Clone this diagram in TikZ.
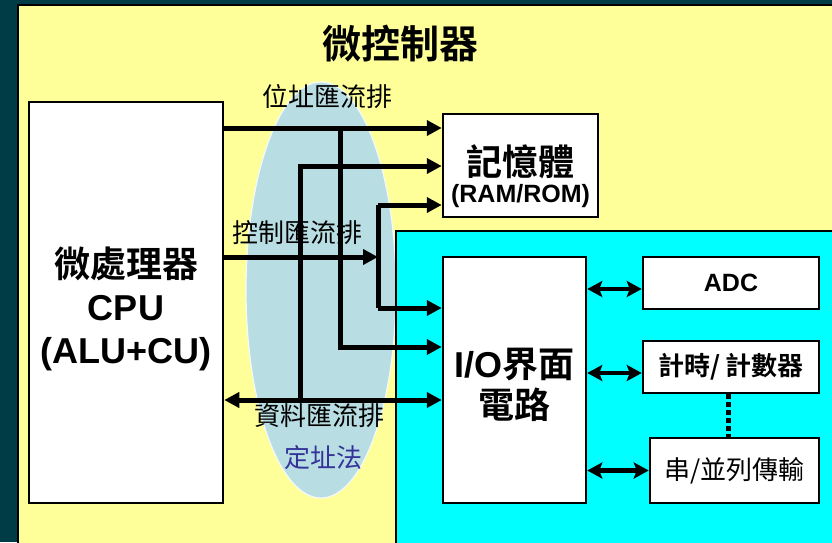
\documentclass[tikz,border=0pt]{standalone}
\usepackage{fontspec}
\setmainfont{Liberation Sans}
\newfontfamily\cjk{Noto Sans CJK TC}[BoldFont={Noto Sans CJK TC Bold}]
\usetikzlibrary{arrows.meta}

\definecolor{outerbg}{RGB}{0,60,70}
\definecolor{mcuyellow}{RGB}{255,255,153}
\definecolor{iocyan}{RGB}{0,255,255}
\definecolor{busoval}{RGB}{184,221,226}
\definecolor{addrblue}{RGB}{51,51,153}

\tikzset{
  blk/.style={draw=black, line width=2.5pt, fill=white, inner sep=0pt},
  bus/.style={line width=5pt},
  busarrow/.style={bus, -{Triangle[length=15pt,width=15pt]}},
  busboth/.style={bus, {Triangle[length=15pt,width=15pt]}-{Triangle[length=15pt,width=15pt]}},
  iolink/.style={line width=4.5pt, {Stealth[length=15pt,width=16pt,inset=3pt]}-{Stealth[length=15pt,width=16pt,inset=3pt]}},
  linkdots/.style={line width=5pt, dash pattern=on 5pt off 3pt},
  buslabel/.style={font=\cjk\fontsize{26}{26}\selectfont, inner sep=0pt}
}

\begin{document}
\begin{tikzpicture}[x=1pt,y=-1pt]
\useasboundingbox (0,0) rectangle (832,542);
\clip (0,0) rectangle (832,542);

% fonds
\fill[outerbg] (0,0) rectangle (832,542);
\filldraw[fill=mcuyellow, draw=black, line width=2pt] (18,5) rectangle (850,560);
\filldraw[fill=busoval, draw=white!85!busoval, line width=1.2pt] (321,290) ellipse [x radius=75pt, y radius=208pt];
\filldraw[fill=iocyan, draw=black, line width=2pt] (396,231) rectangle (850,560);

\node[font=\cjk\bfseries\fontsize{39}{39}\selectfont] (title) at (400,44) {微控制器};

% blocs
\node[blk, minimum width=194pt, minimum height=401pt] (cpu) at (126,302.5) {};
\node[align=center, font=\bfseries\fontsize{36}{43}\selectfont] (cputxt) at (126,309)
  {{\cjk 微處理器}\\CPU\\(ALU+CU)};
\node[blk, minimum width=155pt, minimum height=103pt] (mem) at (520.5,165.5) {};
\node[align=center, font=\bfseries] (memtxt) at (520.5,176)
  {{\cjk\fontsize{36}{36}\selectfont 記憶體}\\[4pt]{\fontsize{25}{26}\selectfont (RAM/ROM)}};
\node[blk, minimum width=143pt, minimum height=246pt] (io) at (514.5,380) {};
\node[align=center, font=\bfseries\fontsize{36}{41}\selectfont] (iotxt) at (514.5,385)
  {I/O{\cjk 界面}\\{\cjk 電路}};
\node[blk, minimum width=176pt, minimum height=52pt, font=\bfseries\fontsize{25}{25}\selectfont] (adc) at (731,283) {ADC};
\node[blk, minimum width=176pt, minimum height=52pt, font=\cjk\bfseries\fontsize{26}{26}\selectfont] (timer) at (731,367) {計時/ 計數器};
\node[blk, minimum width=169pt, minimum height=65pt, font=\cjk\fontsize{26}{26}\selectfont] (serial) at (734.5,470.5) {串/並列傳輸};

%匯流排
\coordinate (addrsplit) at (340,128);
\coordinate (addrio) at (340,347);
\coordinate (datasplit) at (300,400);
\coordinate (datamem) at (300,166);
\coordinate (ctrlsplit) at (378,257);
\coordinate (ctrlmem) at (378,205);
\coordinate (ctrlio) at (378,308);

\draw[busarrow] (cpu.east |- addrsplit) -- (mem.west |- addrsplit);
\draw[busarrow] (addrsplit) -- (addrio) -- (io.west |- addrio);
\draw[busboth] (cpu.east |- datasplit) -- (io.west |- datasplit);
\draw[busarrow] (datasplit) -- (datamem) -- (mem.west |- datamem);
\draw[busarrow] (cpu.east |- ctrlsplit) -- (ctrlsplit);
\draw[bus] (ctrlmem) -- (ctrlio);
\draw[busarrow] (ctrlmem) -- (mem.west |- ctrlmem);
\draw[busarrow] (ctrlio) -- (io.west |- ctrlio);

\node[buslabel] (addrlbl) at (327,97) {位址匯流排};
\node[buslabel] (ctrllbl) at (297,233) {控制匯流排};
\node[buslabel] (datalbl) at (319,416) {資料匯流排};
\node[buslabel, text=addrblue] (modelbl) at (323,458) {定址法};

% I/O 週邊
\draw[iolink] ([yshift=-6pt]io.east |- adc.west) -- ([yshift=-6pt]adc.west);
\draw[iolink] ([yshift=-6pt]io.east |- timer.west) -- ([yshift=-6pt]timer.west);
\draw[iolink] (io.east |- serial.west) -- (serial.west);
\draw[linkdots] ([xshift=-3pt]timer.south) -- ([xshift=-3pt]timer.south |- serial.north);
\end{tikzpicture}
\end{document}
